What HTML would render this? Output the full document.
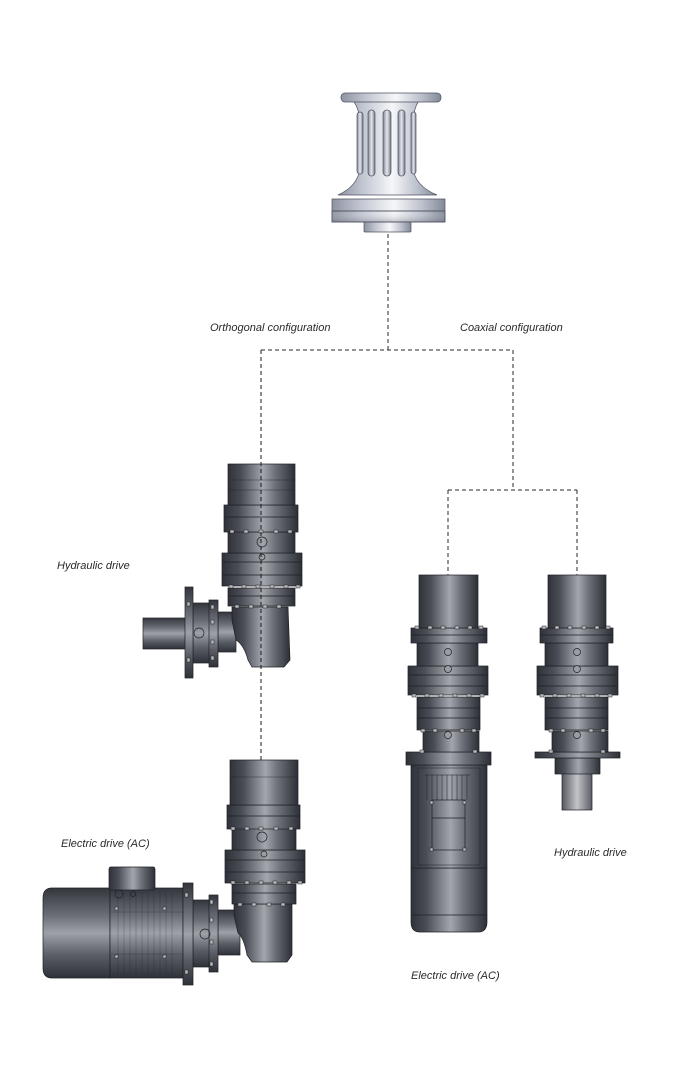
<!DOCTYPE html>
<html><head><meta charset="utf-8"><style>
html,body{margin:0;padding:0;background:#fff;}
svg{display:block;}
text{font-family:"Liberation Sans",Arial,sans-serif;font-style:italic;font-size:11px;fill:#2a2a2a;}
</style></head><body>
<svg width="694" height="1080" viewBox="0 0 694 1080" xmlns="http://www.w3.org/2000/svg">
<defs>
<linearGradient id="gm" x1="0" y1="0" x2="1" y2="0">
<stop offset="0" stop-color="#2f3239"/><stop offset="0.2" stop-color="#4a4d55"/>
<stop offset="0.52" stop-color="#a3a6ad"/><stop offset="0.7" stop-color="#6e7179"/>
<stop offset="1" stop-color="#2c2f36"/></linearGradient>
<linearGradient id="gmv" x1="0" y1="0" x2="0" y2="1">
<stop offset="0" stop-color="#33363d"/><stop offset="0.3" stop-color="#6a6d75"/>
<stop offset="0.5" stop-color="#9ea1a8"/><stop offset="0.75" stop-color="#5a5d65"/>
<stop offset="1" stop-color="#2e3138"/></linearGradient>
<linearGradient id="gl" x1="0" y1="0" x2="1" y2="0">
<stop offset="0" stop-color="#55585f"/><stop offset="0.5" stop-color="#c2c4c8"/>
<stop offset="1" stop-color="#5a5d64"/></linearGradient>
<linearGradient id="gc" x1="0" y1="0" x2="1" y2="0">
<stop offset="0" stop-color="#8e93a2"/><stop offset="0.25" stop-color="#c2c6d1"/>
<stop offset="0.55" stop-color="#f6f7f9"/><stop offset="0.8" stop-color="#bcc0cb"/>
<stop offset="1" stop-color="#838998"/></linearGradient>
<linearGradient id="gcs" x1="0" y1="0" x2="1" y2="0">
<stop offset="0" stop-color="#7d8290"/><stop offset="0.5" stop-color="#e6e8ee"/>
<stop offset="1" stop-color="#747a88"/></linearGradient>
<linearGradient id="gcb" x1="0" y1="0" x2="0" y2="1">
<stop offset="0" stop-color="#ffffff" stop-opacity="0"/><stop offset="1" stop-color="#5d6272" stop-opacity="0.35"/></linearGradient>
</defs>

<!-- ===== Capstan ===== -->
<g stroke="#4d5260" stroke-width="0.7">
<rect x="364" y="220" width="47" height="12" rx="1" fill="url(#gc)"/>
<path d="M332 199 L445 199 L445 222 L332 222 Z" fill="url(#gc)"/>
<rect x="332" y="211" width="113" height="11" fill="url(#gcb)"/>
<line x1="332" y1="211" x2="445" y2="211"/>
<path d="M338 195 Q358 186 360 168 L360 128 Q360 108 353 101 L419 101 Q413 108 413 128 L413 168 Q415 186 437 195 Z" fill="url(#gc)"/>
<rect x="341" y="93" width="100" height="9" rx="4" fill="url(#gc)"/>
<rect x="357" y="112" width="6" height="62" rx="3" fill="url(#gcs)"/>
<rect x="368" y="110" width="7" height="66" rx="3.5" fill="url(#gcs)"/>
<rect x="383" y="110" width="8" height="66" rx="4" fill="url(#gcs)"/>
<rect x="398" y="110" width="7" height="66" rx="3.5" fill="url(#gcs)"/>
<rect x="411" y="112" width="5" height="62" rx="2.5" fill="url(#gcs)"/>
</g>

<!-- ===== Connectors ===== -->
<g stroke="#2a2a2a" stroke-width="1" fill="none" stroke-dasharray="4,3">
<line x1="388" y1="234" x2="388" y2="350"/>
<line x1="261" y1="350" x2="513" y2="350"/>
<line x1="513" y1="350" x2="513" y2="490"/>
<line x1="448" y1="490" x2="577" y2="490"/>
<line x1="448" y1="490" x2="448" y2="575"/>
<line x1="577" y1="490" x2="577" y2="575"/>
</g>

<text x="210" y="331">Orthogonal configuration</text>
<text x="460" y="331">Coaxial configuration</text>
<text x="57" y="569">Hydraulic drive</text>
<text x="61" y="847">Electric drive (AC)</text>
<text x="554" y="856">Hydraulic drive</text>
<text x="411" y="979">Electric drive (AC)</text>

<!-- ===== Orthogonal hydraulic ===== -->
<g stroke="#1e2025" stroke-width="0.7">
<rect x="143" y="618" width="52" height="31" fill="url(#gmv)"/>
<rect x="193" y="603" width="18" height="60" fill="url(#gmv)"/>
<rect x="218" y="612" width="18" height="40" fill="url(#gmv)"/>
<rect x="185" y="587" width="8" height="91" fill="url(#gmv)"/>
<rect x="209" y="600" width="9" height="67" fill="url(#gmv)"/>
<path d="M232 607 L288 607 L290 660 L284 667 L252 667 L248 660 Q244 645 236 640 L232 620 Z" fill="url(#gm)"/>
<rect x="228" y="588" width="67" height="18" fill="url(#gm)"/>
<line x1="228" y1="596" x2="295" y2="596"/>
<rect x="222" y="553" width="80" height="33" fill="url(#gm)"/>
<line x1="222" y1="562" x2="302" y2="562"/><line x1="222" y1="575" x2="302" y2="575"/>
<rect x="228" y="532" width="67" height="21" fill="url(#gm)"/>
<rect x="224" y="505" width="74" height="27" fill="url(#gm)"/>
<line x1="224" y1="517" x2="298" y2="517"/>
<rect x="228" y="464" width="67" height="41" fill="url(#gm)"/>
<line x1="228" y1="480" x2="295" y2="480" stroke-opacity="0.5"/>
<line x1="228" y1="490" x2="295" y2="490" stroke-opacity="0.5"/>
<circle cx="262" cy="542" r="5" fill="none"/>
<circle cx="262" cy="557" r="3" fill="#9a9da3"/>
<circle cx="199" cy="633" r="5" fill="none"/>
</g>
<g fill="#b8bbc0" stroke="#222" stroke-width="0.5">
<rect x="230" y="530" width="4" height="3"/><rect x="244" y="530" width="4" height="3"/><rect x="259" y="530" width="4" height="3"/><rect x="274" y="530" width="4" height="3"/><rect x="288" y="530" width="4" height="3"/>
<rect x="229" y="585" width="4" height="3"/><rect x="242" y="585" width="4" height="3"/><rect x="256" y="585" width="4" height="3"/><rect x="270" y="585" width="4" height="3"/><rect x="284" y="585" width="4" height="3"/><rect x="296" y="585" width="4" height="3"/>
<rect x="235" y="605" width="4" height="3"/><rect x="249" y="605" width="4" height="3"/><rect x="263" y="605" width="4" height="3"/><rect x="277" y="605" width="4" height="3"/>
<rect x="187" y="602" width="3" height="4"/><rect x="187" y="658" width="3" height="4"/>
<rect x="211" y="605" width="3" height="4"/><rect x="211" y="620" width="3" height="4"/><rect x="211" y="640" width="3" height="4"/><rect x="211" y="656" width="3" height="4"/>
</g>
<line x1="261" y1="350" x2="261" y2="760" stroke="#1a1a1a" stroke-width="1" stroke-dasharray="4,3"/>

<!-- ===== Orthogonal electric ===== -->
<g stroke="#1e2025" stroke-width="0.7">
<path d="M52 888 L110 888 L110 978 L52 978 Q43 978 43 968 L43 898 Q43 888 52 888 Z" fill="url(#gmv)"/>
<rect x="110" y="888" width="73" height="90" fill="url(#gmv)"/>
<g stroke-opacity="0.45" stroke-width="0.5">
<line x1="118" y1="892" x2="118" y2="974"/><line x1="124" y1="892" x2="124" y2="974"/><line x1="130" y1="892" x2="130" y2="974"/><line x1="136" y1="892" x2="136" y2="974"/><line x1="142" y1="892" x2="142" y2="974"/><line x1="148" y1="892" x2="148" y2="974"/><line x1="154" y1="892" x2="154" y2="974"/><line x1="160" y1="892" x2="160" y2="974"/><line x1="166" y1="892" x2="166" y2="974"/><line x1="172" y1="892" x2="172" y2="974"/>
<line x1="110" y1="912" x2="183" y2="912"/><line x1="110" y1="954" x2="183" y2="954"/>
</g>
<rect x="109" y="867" width="46" height="23" rx="2" fill="url(#gm)"/>
<circle cx="119" cy="894" r="4" fill="none"/><circle cx="133" cy="894" r="2.5" fill="none"/>
<rect x="193" y="900" width="18" height="67" fill="url(#gmv)"/>
<rect x="183" y="883" width="10" height="102" fill="url(#gmv)"/>
<rect x="218" y="910" width="22" height="45" fill="url(#gmv)"/>
<rect x="209" y="895" width="9" height="77" fill="url(#gmv)"/>
<path d="M234 904 L292 904 L292 955 L287 962 L252 962 L247 955 Q244 938 238 933 L234 915 Z" fill="url(#gm)"/>
<rect x="232" y="884" width="64" height="20" fill="url(#gm)"/>
<line x1="232" y1="893" x2="296" y2="893"/>
<rect x="225" y="850" width="80" height="33" fill="url(#gm)"/>
<line x1="225" y1="860" x2="305" y2="860"/><line x1="225" y1="872" x2="305" y2="872"/>
<rect x="232" y="828" width="64" height="22" fill="url(#gm)"/>
<rect x="227" y="805" width="73" height="24" fill="url(#gm)"/>
<line x1="227" y1="816" x2="300" y2="816"/>
<rect x="230" y="760" width="68" height="45" fill="url(#gm)"/>
<line x1="230" y1="777" x2="298" y2="777" stroke-opacity="0.5"/>
<circle cx="262" cy="837" r="5" fill="none"/>
<circle cx="264" cy="854" r="3" fill="#9a9da3"/>
<circle cx="205" cy="934" r="5" fill="none"/>
</g>
<g fill="#b8bbc0" stroke="#222" stroke-width="0.5">
<rect x="231" y="827" width="4" height="3"/><rect x="245" y="827" width="4" height="3"/><rect x="259" y="827" width="4" height="3"/><rect x="274" y="827" width="4" height="3"/><rect x="289" y="827" width="4" height="3"/>
<rect x="231" y="881" width="4" height="3"/><rect x="245" y="881" width="4" height="3"/><rect x="259" y="881" width="4" height="3"/><rect x="273" y="881" width="4" height="3"/><rect x="287" y="881" width="4" height="3"/><rect x="298" y="881" width="4" height="3"/>
<rect x="238" y="903" width="4" height="3"/><rect x="252" y="903" width="4" height="3"/><rect x="267" y="903" width="4" height="3"/><rect x="281" y="903" width="4" height="3"/>
<rect x="210" y="900" width="3" height="4"/><rect x="210" y="918" width="3" height="4"/><rect x="210" y="940" width="3" height="4"/><rect x="210" y="962" width="3" height="4"/>
<rect x="185" y="893" width="3" height="4"/><rect x="185" y="970" width="3" height="4"/>
<rect x="115" y="907" width="3" height="3"/><rect x="163" y="907" width="3" height="3"/><rect x="115" y="955" width="3" height="3"/><rect x="163" y="955" width="3" height="3"/>
</g>

<!-- ===== Coaxial electric ===== -->
<g stroke="#1e2025" stroke-width="0.7">
<path d="M411 868 L487 868 L487 922 Q487 932 478 932 L420 932 Q411 932 411 922 Z" fill="url(#gm)"/>
<line x1="411" y1="915" x2="487" y2="915"/>
<rect x="411" y="765" width="76" height="103" fill="url(#gm)"/>
<rect x="418" y="768" width="62" height="97" fill="none" stroke-opacity="0.7"/>
<g stroke-width="0.5">
<line x1="427" y1="775" x2="427" y2="800"/><line x1="432" y1="775" x2="432" y2="800"/><line x1="437" y1="775" x2="437" y2="800"/><line x1="442" y1="775" x2="442" y2="800"/><line x1="447" y1="775" x2="447" y2="800"/><line x1="452" y1="775" x2="452" y2="800"/><line x1="457" y1="775" x2="457" y2="800"/><line x1="462" y1="775" x2="462" y2="800"/><line x1="467" y1="775" x2="467" y2="800"/>
<line x1="425" y1="775" x2="470" y2="775"/>
</g>
<rect x="432" y="800" width="33" height="50" fill="none"/>
<line x1="432" y1="818" x2="465" y2="818"/>
<rect x="406" y="752" width="85" height="13" fill="url(#gm)"/>
<rect x="423" y="731" width="56" height="21" fill="url(#gm)"/>
<rect x="417" y="697" width="63" height="33" fill="url(#gm)"/>
<line x1="417" y1="708" x2="480" y2="708"/><line x1="417" y1="718" x2="480" y2="718"/>
<rect x="408" y="666" width="80" height="29" fill="url(#gm)"/>
<line x1="408" y1="675" x2="488" y2="675"/><line x1="408" y1="686" x2="488" y2="686"/>
<rect x="417" y="643" width="61" height="23" fill="url(#gm)"/>
<rect x="411" y="628" width="76" height="15" fill="url(#gm)"/>
<line x1="411" y1="635" x2="487" y2="635"/>
<rect x="419" y="575" width="59" height="53" fill="url(#gm)"/>
<circle cx="448" cy="652" r="3.5" fill="#9a9da3"/>
<circle cx="448" cy="669" r="3.5" fill="#9a9da3"/>
<circle cx="448" cy="735" r="3.5" fill="#9a9da3"/>
</g>
<g fill="#b8bbc0" stroke="#222" stroke-width="0.5">
<rect x="415" y="626" width="4" height="3"/><rect x="428" y="626" width="4" height="3"/><rect x="441" y="626" width="4" height="3"/><rect x="455" y="626" width="4" height="3"/><rect x="468" y="626" width="4" height="3"/><rect x="479" y="626" width="4" height="3"/>
<rect x="412" y="694" width="4" height="3"/><rect x="425" y="694" width="4" height="3"/><rect x="439" y="694" width="4" height="3"/><rect x="453" y="694" width="4" height="3"/><rect x="467" y="694" width="4" height="3"/><rect x="480" y="694" width="4" height="3"/>
<rect x="421" y="729" width="4" height="3"/><rect x="433" y="729" width="4" height="3"/><rect x="460" y="729" width="4" height="3"/><rect x="472" y="729" width="4" height="3"/>
<rect x="420" y="750" width="4" height="3"/><rect x="473" y="750" width="4" height="3"/>
<rect x="430" y="801" width="3" height="3"/><rect x="463" y="801" width="3" height="3"/><rect x="430" y="848" width="3" height="3"/><rect x="463" y="848" width="3" height="3"/>
</g>

<!-- ===== Coaxial hydraulic ===== -->
<g stroke="#1e2025" stroke-width="0.7">
<rect x="562" y="772" width="30" height="38" fill="url(#gl)"/>
<rect x="555" y="758" width="45" height="16" fill="url(#gm)"/>
<rect x="535" y="752" width="85" height="6" fill="url(#gm)"/>
<rect x="552" y="731" width="56" height="21" fill="url(#gm)"/>
<rect x="545" y="697" width="63" height="33" fill="url(#gm)"/>
<line x1="545" y1="708" x2="608" y2="708"/><line x1="545" y1="718" x2="608" y2="718"/>
<rect x="537" y="666" width="81" height="29" fill="url(#gm)"/>
<line x1="537" y1="675" x2="618" y2="675"/><line x1="537" y1="686" x2="618" y2="686"/>
<rect x="545" y="643" width="63" height="23" fill="url(#gm)"/>
<rect x="540" y="628" width="73" height="15" fill="url(#gm)"/>
<line x1="540" y1="635" x2="613" y2="635"/>
<rect x="548" y="575" width="58" height="53" fill="url(#gm)"/>
<circle cx="577" cy="652" r="3.5" fill="#9a9da3"/>
<circle cx="577" cy="669" r="3.5" fill="#9a9da3"/>
<circle cx="577" cy="735" r="3.5" fill="#9a9da3"/>
</g>
<g fill="#b8bbc0" stroke="#222" stroke-width="0.5">
<rect x="542" y="626" width="4" height="3"/><rect x="555" y="626" width="4" height="3"/><rect x="568" y="626" width="4" height="3"/><rect x="582" y="626" width="4" height="3"/><rect x="595" y="626" width="4" height="3"/><rect x="606" y="626" width="4" height="3"/>
<rect x="540" y="694" width="4" height="3"/><rect x="553" y="694" width="4" height="3"/><rect x="567" y="694" width="4" height="3"/><rect x="581" y="694" width="4" height="3"/><rect x="595" y="694" width="4" height="3"/><rect x="608" y="694" width="4" height="3"/>
<rect x="549" y="729" width="4" height="3"/><rect x="561" y="729" width="4" height="3"/><rect x="589" y="729" width="4" height="3"/><rect x="601" y="729" width="4" height="3"/>
<rect x="549" y="750" width="4" height="3"/><rect x="601" y="750" width="4" height="3"/>
</g>
</svg>
</body></html>
